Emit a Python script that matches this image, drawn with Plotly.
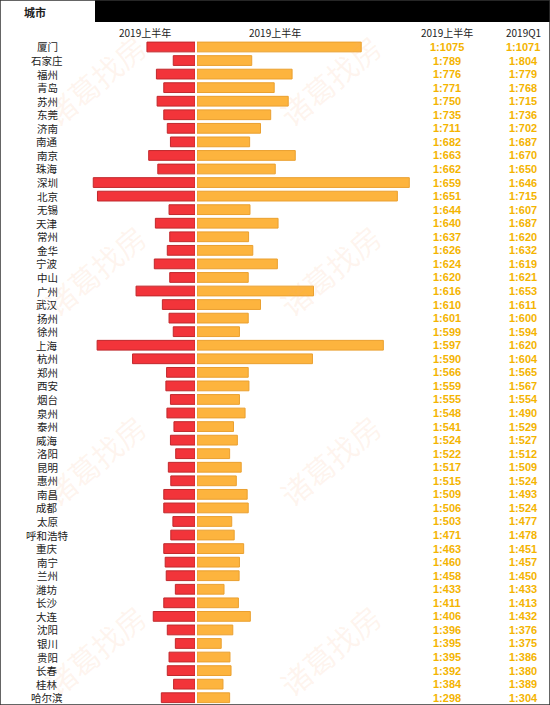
import plotly.graph_objects as go

cities = ["厦门","石家庄","福州","青岛","苏州","东莞","济南","南通","南京","珠海","深圳","北京","无锡","天津","常州","金华","宁波","中山","广州","武汉","扬州","徐州","上海","杭州","郑州","西安","烟台","泉州","泰州","威海","洛阳","昆明","惠州","南昌","成都","太原","呼和浩特","重庆","南宁","兰州","潍坊","长沙","大连","沈阳","银川","贵阳","长春","桂林","哈尔滨"]
red_vals = [137,62,110,89,108,89,79,70,132,106,290,278,74,113,72,79,116,72,168,93,74,62,279,178,81,83,70,80,60,70,55,76,69,89,89,63,69,89,85,82,56,89,119,79,56,74,79,61,96]
orange_vals = [468,156,271,220,260,210,181,150,280,223,605,571,151,231,147,159,229,146,332,181,146,121,531,329,146,148,121,137,104,115,93,126,112,143,146,99,106,133,121,120,77,118,152,102,69,94,97,74,93]
ratio_h1 = ["1:1075","1:789","1:776","1:771","1:750","1:735","1:711","1:682","1:663","1:662","1:659","1:651","1:644","1:640","1:637","1:626","1:624","1:620","1:616","1:610","1:601","1:599","1:597","1:590","1:566","1:559","1:555","1:548","1:541","1:524","1:522","1:517","1:515","1:509","1:506","1:503","1:471","1:463","1:460","1:458","1:433","1:411","1:406","1:396","1:395","1:395","1:392","1:384","1:298"]
ratio_q1 = ["1:1071","1:804","1:779","1:768","1:715","1:736","1:702","1:687","1:670","1:650","1:646","1:715","1:607","1:687","1:620","1:632","1:619","1:621","1:653","1:611","1:600","1:594","1:620","1:604","1:565","1:567","1:554","1:490","1:529","1:527","1:512","1:509","1:524","1:493","1:524","1:477","1:478","1:451","1:457","1:450","1:433","1:413","1:432","1:376","1:375","1:386","1:380","1:389","1:304"]
headers = ["2019上半年","2019上半年","2019上半年","2019Q1"]

W, H = 550, 705
px = lambda v: v / W
py = lambda v: 1 - v / H
font = "Noto Sans CJK SC"

fig = go.Figure()
fig.add_trace(go.Bar(y=cities, x=red_vals, orientation="h", xaxis="x", yaxis="y",
                     marker=dict(color="#f2343a", line=dict(color="#c0282c", width=1)), width=0.72))
fig.add_trace(go.Bar(y=cities, x=orange_vals, orientation="h", xaxis="x2", yaxis="y",
                     marker=dict(color="#fdb43e", line=dict(color="#eaa030", width=1)), width=0.72))

C = dict(xanchor="center", yanchor="middle", showarrow=False)
ann = []
for i, c in enumerate(cities):
    ann.append(dict(x=px(47), y=c, xref="paper", yref="y", text=c, **C,
                    font=dict(family=font, size=10.5, color="#222")))
    ann.append(dict(x=px(447), y=c, xref="paper", yref="y", text=ratio_h1[i], **C,
                    font=dict(family="Liberation Sans", size=11, color="#f4b400", weight="bold")))
    ann.append(dict(x=px(523), y=c, xref="paper", yref="y", text=ratio_q1[i], **C,
                    font=dict(family="Liberation Sans", size=11, color="#f4b400", weight="bold")))
for hx, t in zip([145, 275, 447, 523], headers):
    ann.append(dict(x=px(hx), y=py(33), xref="paper", yref="paper", text=t, **C,
                    font=dict(family=font, size=10, color="#222")))
ann.append(dict(x=px(35), y=py(12), xref="paper", yref="paper", text="<b>城市</b>", **C,
                font=dict(family=font, size=11, color="#222")))
for wx, wy in [(95, 80), (330, 80), (95, 270), (330, 270), (95, 460), (330, 460), (95, 650), (330, 650)]:
    ann.append(dict(x=px(wx), y=py(wy), xref="paper", yref="paper", text="诸葛找房", **C,
                    textangle=-40, font=dict(family=font, size=30, color="rgba(250,170,120,0.13)")))

shapes = [
    dict(type="rect", xref="paper", yref="paper", x0=px(95), x1=1, y0=py(22), y1=1,
         fillcolor="black", line=dict(width=0)),
    dict(type="rect", xref="paper", yref="paper", x0=0, x1=1, y0=0, y1=1,
         line=dict(color="#333", width=1.5)),
]

fig.update_layout(
    width=W, height=H, margin=dict(l=0, r=0, t=0, b=0),
    paper_bgcolor="white", plot_bgcolor="rgba(0,0,0,0)", showlegend=False, bargap=0.28,
    xaxis=dict(domain=[px(88), px(195)], range=[305, 0], visible=False, fixedrange=True),
    xaxis2=dict(domain=[px(197), px(430)], range=[0, 664], visible=False, anchor="y"),
    yaxis=dict(domain=[py(704.5), py(40.2)], range=[len(cities) - 0.5, -0.5], visible=False,
               categoryorder="array", categoryarray=cities),
    annotations=ann, shapes=shapes,
)
fig.write_html("out.html", config={"displayModeBar": False})
with open("out.html", encoding="utf-8") as f:
    html = f.read()
html = html.replace("<head>", "<head><style>html,body{margin:0;padding:0;overflow:hidden}</style>", 1)
with open("out.html", "w", encoding="utf-8") as f:
    f.write(html)
